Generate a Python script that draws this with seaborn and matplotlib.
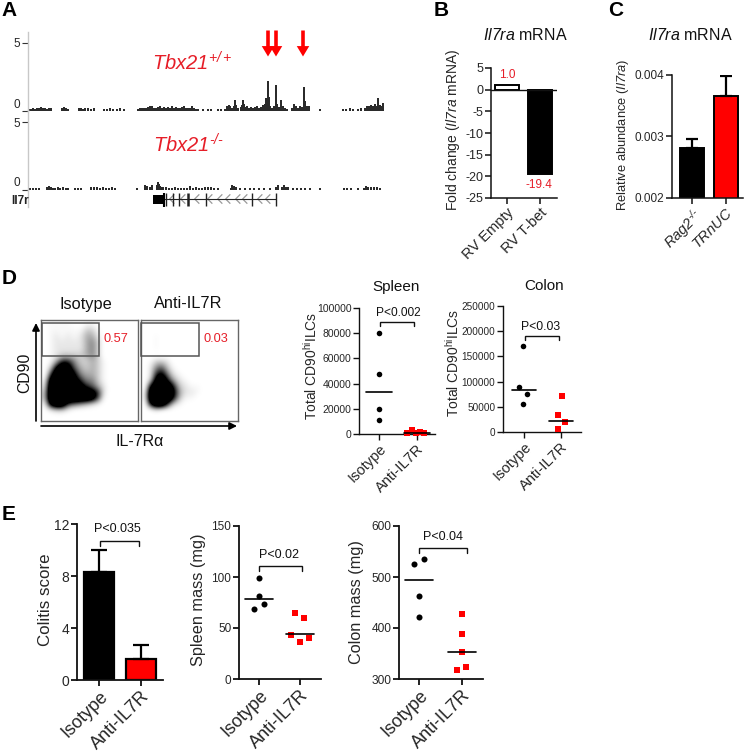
import numpy as np
import pandas as pd
import matplotlib
matplotlib.use('Agg')
import matplotlib.pyplot as plt
from matplotlib.colors import PowerNorm
from matplotlib.path import Path
from matplotlib.patches import Rectangle
import seaborn as sns

# Panel A tracks, position along the locus and signal height
wt_pos = [29, 31, 33, 35, 37, 39, 41, 43, 45, 47, 49, 51, 62, 64, 66, 68, 79, 81, 83, 85, 88, 91, 94,
          104, 107, 110, 113, 117, 120, 124, 138, 140, 142, 144, 146, 148, 150, 152, 154, 156, 158, 160,
          162, 164, 166, 168, 170, 172, 174, 176, 178, 180, 182, 184, 186, 188, 190, 192, 194, 196, 198,
          203, 208, 211, 218, 221, 225, 227, 228, 229, 230, 232, 234, 235, 236, 238, 241, 242, 243, 244,
          245, 247, 249, 251, 253, 255, 257, 259, 261, 263, 265, 266, 267, 268, 269, 270, 272, 274, 276,
          277, 279, 281, 283, 285, 287, 292, 294, 296, 298, 300, 302, 304, 305, 307, 309, 320, 343, 346,
          350, 353, 358, 361, 365, 367, 369, 371, 373, 375, 377, 378, 380, 382, 383]
wt_sig = [.12, .1, .2, .12, .2, .15, .25, .15, .2, .12, .2, .2, .2, .25, .2, .1, .15, .22, .12, .15, .2, .12, .2,
          .12, .12, .2, .1, .12, .22, .1, .12, .15, .15, .2, .15, .25, .3, .35, .2, .2, .25, .3,
          .2, .25, .2, .25, .2, .3, .2, .25, .2, .15, .25, .3, .2, .15, .2, .3, .2, .1, .1,
          .08, .08, .1, .1, .08, .1, .3, .25, .4, .35, .2, .3, .8, .4, .2, .25, .4, .75, .5,
          .25, .3, .2, .25, .2, .25, .3, .2, .25, .4, .45, .9, .6, 2.15, 1.0, .3, .15, .3, 1.9,
          .5, .25, .8, .3, .15, .1, .15, .45, .35, .2, .3, .25, 1.7, .7, .3, .3, .1, .08, .1,
          .2, .1, .12, .2, .15, .3, .3, .4, .35, .45, .35, .95, .4, .3, .55]
ko_pos = [27, 30, 33, 36, 39, 47, 49, 51, 53, 55, 58, 60, 63, 66, 68, 75, 78, 81, 91, 94, 97, 100, 103, 106, 109, 112, 115,
          137, 145, 147, 150, 152, 157, 158, 159, 160, 161, 163, 166, 169, 172, 175, 178, 181, 184, 187, 190, 193, 196, 199, 202,
          205, 208, 211, 214, 218, 231, 232, 234, 236, 240, 245, 250, 254, 259, 264, 270, 276, 278, 282, 284, 286, 288,
          293, 297, 301, 305, 310, 320, 344, 347, 351, 358, 364, 366, 368, 371, 374, 377, 380]
ko_sig = [.08, .08, .1, .1, .08, .15, .25, .2, .12, .12, .15, .1, .2, .12, .1, .08, .1, .08, .2, .15, .15, .1, .15, .1, .12, .15, .08,
          .08, .35, .25, .15, .3, .35, .55, .4, .25, .15, .2, .15, .1, .12, .15, .1, .12, .12, .1, .25, .12, .15, .1, .12,
          .2, .15, .2, .1, .12, .1, .35, .25, .2, .1, .1, .08, .1, .12, .1, .1, .2, .3, .15, .35, .15, .2,
          .08, .08, .08, .08, .1, .1, .1, .1, .12, .12, .1, .25, .15, .2, .15, .2, .1]
exon_pos = [166, 173, 179, 188, 206, 252, 276]
chevron_pos = [172, 183, 197, 210, 220, 228, 238, 245, 260, 268]

# Panel B and C
b_groups = ['RV Empty', 'RV T-bet']
b_values = [1.0, -19.4]
c_groups = ['$\\mathsf{Rag2}^{\\mathsf{\u2010/\u2010}}$', '$\\mathsf{TRnUC}$']
c_values = [0.00281, 0.00365]
c_upper = [0.00296, 0.00397]

# Panel D flow plots, how dark each region is (0 to 10), top row first
iso_density = [
    [0, 1, 1, 1, 1, 0, 0, 1, 1, 0, 0, 0, 0, 0, 0, 0],
    [0, 1, 1, 1, 1, 1, 1, 3, 3, 1, 0, 0, 0, 0, 0, 0],
    [0, 1, 2, 1, 2, 1, 2, 4, 4, 2, 0, 0, 0, 0, 0, 0],
    [0, 1, 2, 2, 2, 2, 2, 4, 5, 3, 0, 0, 0, 0, 0, 0],
    [0, 1, 2, 2, 2, 2, 2, 4, 5, 3, 0, 0, 0, 0, 0, 0],
    [0, 1, 2, 3, 3, 3, 3, 4, 5, 3, 0, 0, 0, 0, 0, 0],
    [0, 1, 4, 7, 7, 5, 3, 3, 4, 3, 1, 0, 0, 0, 0, 0],
    [0, 3, 8, 10, 9, 6, 4, 3, 4, 3, 1, 0, 0, 0, 0, 0],
    [0, 6, 10, 10, 10, 8, 5, 4, 4, 3, 1, 0, 0, 0, 0, 0],
    [1, 9, 10, 10, 10, 9, 7, 5, 5, 3, 1, 0, 0, 0, 0, 0],
    [2, 10, 10, 10, 10, 10, 9, 7, 6, 4, 2, 0, 0, 0, 0, 0],
    [3, 10, 10, 10, 10, 10, 10, 10, 9, 7, 2, 0, 0, 0, 0, 0],
    [3, 10, 10, 10, 10, 10, 10, 10, 9, 6, 1, 0, 0, 0, 0, 0],
    [1, 8, 10, 10, 6, 5, 4, 3, 2, 1, 0, 0, 0, 0, 0, 0],
    [0, 1, 2, 2, 1, 0, 0, 0, 0, 0, 0, 0, 0, 0, 0, 0],
    [0, 0, 0, 0, 0, 0, 0, 0, 0, 0, 0, 0, 0, 0, 0, 0],
]
anti_density = [
    [0, 0, 0, 0, 0, 0, 0, 0, 0, 0, 0, 0, 0, 0, 0, 0],
    [0, 0, 0, 0, 0, 0, 0, 0, 0, 0, 0, 0, 0, 0, 0, 0],
    [0, 0, 1, 0, 0, 0, 0, 0, 0, 0, 0, 0, 0, 0, 0, 0],
    [0, 0, 1, 0, 0, 0, 0, 0, 0, 0, 0, 0, 0, 0, 0, 0],
    [0, 0, 1, 0, 0, 0, 0, 0, 0, 0, 0, 0, 0, 0, 0, 0],
    [0, 0, 0, 0, 0, 0, 0, 0, 0, 0, 0, 0, 0, 0, 0, 0],
    [0, 1, 3, 3, 2, 0, 0, 0, 0, 0, 0, 0, 0, 0, 0, 0],
    [0, 2, 5, 6, 3, 1, 0, 0, 0, 0, 0, 0, 0, 0, 0, 0],
    [0, 2, 7, 8, 5, 2, 1, 0, 0, 0, 0, 0, 0, 0, 0, 0],
    [0, 3, 9, 10, 7, 4, 2, 1, 0, 0, 0, 0, 0, 0, 0, 0],
    [0, 8, 10, 10, 10, 7, 3, 2, 1, 1, 0, 0, 0, 0, 0, 0],
    [1, 10, 10, 10, 10, 8, 4, 2, 2, 1, 0, 0, 0, 0, 0, 0],
    [1, 10, 10, 10, 10, 7, 3, 1, 1, 0, 0, 0, 0, 0, 0, 0],
    [0, 7, 10, 10, 6, 2, 1, 0, 0, 0, 0, 0, 0, 0, 0, 0],
    [0, 0, 1, 0, 0, 0, 0, 0, 0, 0, 0, 0, 0, 0, 0, 0],
    [0, 0, 0, 0, 0, 0, 0, 0, 0, 0, 0, 0, 0, 0, 0, 0],
]

groups = ['Isotype', 'Anti-IL7R']

# Panel D dots: values and horizontal spread within each group
spleen_iso = [80500, 48000, 19500, 11000]
spleen_iso_dx = [0, 0, 0, 0]
spleen_anti = [800, 3000, 1000, 1200, 800]
spleen_anti_dx = [-.27, -.14, -.03, .09, .19]
spleen_means = [33500, 1000]
colon_iso = [170000, 89000, 76000, 55000]
colon_iso_dx = [-.02, -.13, .08, -.02]
colon_anti = [71000, 34000, 20000, 5000]
colon_anti_dx = [.02, -.08, .12, -.08]
colon_means = [83000, 21000]

# Panel E
colitis_values = [8.3, 1.6]
colitis_upper = [10.0, 2.7]
spmass_iso = [99, 81, 74, 69]
spmass_iso_dx = [0, 0, .12, -.11]
spmass_anti = [64.5, 60, 43, 36, 40]
spmass_anti_dx = [-.12, .1, -.22, 0, .22]
spmass_means = [78, 44]
comass_iso = [535, 526, 462, 421]
comass_iso_dx = [.11, -.11, 0, 0]
comass_anti = [428, 388, 352, 323, 317]
comass_anti_dx = [0, 0, 0, .1, -.11]
comass_means = [494, 353]

W, H = 745, 752
RED = '#ff0000'
TXT_RED = '#e61e28'

sns.set_theme(style='ticks')
plt.rcParams['font.family'] = ['Liberation Sans', 'DejaVu Sans']
plt.rcParams['mathtext.fontset'] = 'custom'
plt.rcParams['mathtext.rm'] = 'Liberation Sans'
plt.rcParams['mathtext.it'] = 'Liberation Sans:italic'
plt.rcParams['mathtext.bf'] = 'Liberation Sans:bold'
# sf is used for gene names, so digits stay italic too
plt.rcParams['mathtext.sf'] = 'Liberation Sans:italic'
plt.rcParams['mathtext.default'] = 'regular'
plt.rcParams['text.color'] = '#111111'

fig = plt.figure(figsize=(W / 100, H / 100), dpi=100)


def px_axes(left, top, right, bottom):
    return fig.add_axes([left / W, 1 - bottom / H, (right - left) / W, (bottom - top) / H])


# overlay in pixel coordinates for letters, titles and brackets
ov = fig.add_axes([0, 0, 1, 1], zorder=10)
ov.set_xlim(0, W)
ov.set_ylim(H, 0)
ov.axis('off')
ov.patch.set_alpha(0)


def label(x, y, s, size=10, **kw):
    kw.setdefault('ha', 'center')
    kw.setdefault('va', 'center')
    return ov.text(x, y, s, fontsize=size, **kw)


def bracket(x0, x1, y, drop=5):
    ov.plot([x0, x0, x1, x1], [y + drop, y, y, y + drop], color='#111111', lw=1.0, solid_joinstyle='miter')


def style_axes(ax, t0, t1, tick_size, cat_size, ylabel, ylabel_x, ylabel_y, ylabel_size, lw=1.1):
    # t0, t1: pixel position of the two category ticks
    box = ax.get_position()
    left, right = box.x0 * W, box.x1 * W
    ax.set_xlim((left - t0) / (t1 - t0), (right - t0) / (t1 - t0))
    ax.set_facecolor('none')
    sns.despine(ax=ax)
    for s in ['left', 'bottom']:
        ax.spines[s].set_linewidth(lw)
        ax.spines[s].set_color('#111111')
    ax.tick_params(axis='both', length=4, width=lw, color='#111111', pad=1.5)
    ax.tick_params(axis='y', labelsize=tick_size)
    ax.tick_params(axis='x', labelsize=cat_size)
    for t in ax.get_xticklabels():
        t.set_rotation(45)
        t.set_ha('right')
        t.set_rotation_mode('anchor')
    ax.set_xlabel('')
    ax.set_ylabel(ylabel, fontsize=ylabel_size, va='center')
    ax.yaxis.set_label_coords(ylabel_x / W, 1 - ylabel_y / H, transform=fig.transFigure)


def dot_panel(ax, iso, iso_dx, anti, anti_dx, means, half=.33, size=16, lw=1.2):
    ax.set_xticks([0, 1])
    ax.set_xticklabels(groups)
    sns.scatterplot(x=[0 + d for d in iso_dx], y=iso, color='black', marker='o', s=size, linewidth=0, ax=ax, zorder=3)
    sns.scatterplot(x=[1 + d for d in anti_dx], y=anti, color=RED, marker='s', s=size, linewidth=0, ax=ax, zorder=3,
                    clip_on=False)
    for i, m in enumerate(means):
        ax.plot([i - half, i + half], [m, m], color='black', lw=lw, zorder=4)


def bar_panel(ax, names, values, colors, width, lw=1.6):
    df = pd.DataFrame({'group': names, 'value': values})
    sns.barplot(data=df, x='group', y='value', hue='group', palette=colors, width=width, errorbar=None,
                edgecolor='black', linewidth=lw, saturation=1, legend=False, ax=ax)


def upper_error(ax, values, upper, cap=4, lw=1.6):
    for i, (v, u) in enumerate(zip(values, upper)):
        ax.errorbar(i, v, yerr=[[0], [u - v]], color='black', capsize=cap, elinewidth=lw, capthick=lw, zorder=1)


# ---- Panel A ----
label(9, 10, 'A', 15, fontweight='bold', color='black')
track_color = '#2b2b2b'
guide = '#c8c8c8'


def track(ax, pos, sig, top):
    ax.bar(pos, sig, width=1.6, color=track_color, linewidth=0)
    ax.set_xlim(28, 385)
    ax.set_ylim(0, top)
    ax.set_xticks([])
    ax.set_yticks([0, 5])
    ax.set_yticklabels(['0', '5'], fontsize=8.5)
    ax.set_facecolor('none')
    ax.tick_params(axis='y', length=4, width=0.8, color='#333333', pad=2)
    for s in ['top', 'right', 'bottom']:
        ax.spines[s].set_visible(False)
    ax.spines['left'].set_color(guide)
    ax.spines['left'].set_linewidth(1.0)
    ax.get_yticklabels()[0].set_va('bottom')


track(px_axes(28, 32, 385, 110.5), wt_pos, wt_sig, 78.5 / 13.6)
track(px_axes(28, 110.5, 385, 189.5), ko_pos, ko_sig, 79 / 13.4)

gene = px_axes(28, 189.5, 385, 207)
gene.set_xlim(28, 385)
gene.set_ylim(207, 189.5)
gene.set_xticks([])
gene.set_yticks([])
gene.set_facecolor('none')
for s in ['top', 'right', 'bottom']:
    gene.spines[s].set_visible(False)
gene.spines['left'].set_color(guide)
gene.spines['left'].set_linewidth(1.0)
gene.plot([163, 276], [199, 199], color='#222222', lw=0.8)
chevron = Path([(0.5, 1), (-0.5, 0), (0.5, -1)], [Path.MOVETO, Path.LINETO, Path.LINETO])
gene.scatter(chevron_pos, [199] * len(chevron_pos), marker=chevron, s=45, facecolors='none',
             edgecolors='#9a9a9a', linewidths=0.9)
gene.vlines(exon_pos, 193, 206, color='#222222', lw=[1, 1, 1, 1.8, 1, 1, 1])
gene.add_patch(Rectangle((153, 195), 10, 9, color='black', linewidth=0))
gene.vlines([163.5], 192.5, 207, color='black', lw=1.5)
label(20, 200.5, 'Il7r', 8.5, fontweight='bold', color='#222222')

label(152, 63, '$\\mathsf{Tbx21}^{\\mathsf{+/+}}$', 14.5, color=TXT_RED, ha='left')
label(153, 145, '$\\mathsf{Tbx21}^{\\mathsf{\u2010/\u2010}}$', 14.5, color=TXT_RED, ha='left')
for x in [268, 276, 303]:
    ov.annotate('', xy=(x, 56.5), xytext=(x, 30.5),
                arrowprops=dict(facecolor=RED, edgecolor='none', width=2.6, headwidth=9, headlength=7.5, shrink=0))

# ---- Panel B ----
label(441, 10, 'B', 15, fontweight='bold', color='black')
label(525, 35, r'$\mathsf{Il7ra}$ mRNA', 11.5)
ax_b = px_axes(491, 68, 557, 198)
bar_panel(ax_b, b_groups, b_values, ['white', 'black'], 0.72, lw=1.4)
ax_b.set_ylim(-25, 5)
ax_b.set_yticks([5, 0, -5, -10, -15, -20, -25])
ax_b.set_yticklabels(['5', '0', '-5', '-10', '-15', '-20', '-25'])
ax_b.axhline(0, color='#111111', lw=1.0, zorder=5)
style_axes(ax_b, 507, 540, 9, 10.5, r'Fold change ($\mathsf{Il7ra}$ mRNA)', 453, 130, 10)
label(507, 75, '1.0', 8.5, color=TXT_RED)
label(539, 185, '-19.4', 8.5, color=TXT_RED)

# ---- Panel C ----
label(616, 10, 'C', 15, fontweight='bold', color='black')
label(690, 35, r'$\mathsf{Il7ra}$ mRNA', 11.5)
ax_c = px_axes(672, 74.5, 743, 198)
bar_panel(ax_c, c_groups, c_values, ['black', RED], 0.7, lw=1.4)
upper_error(ax_c, c_values, c_upper, cap=4.5)
ax_c.set_ylim(0.002, 0.004)
ax_c.set_yticks([0.002, 0.003, 0.004])
ax_c.set_yticklabels(['0.002', '0.003', '0.004'])
style_axes(ax_c, 692, 726, 8.5, 10.5, r'Relative abundance ($\mathsf{Il7ra}$)', 623, 135, 9.3)

# ---- Panel D ----
label(9, 278, 'D', 15, fontweight='bold', color='black')
label(86, 304, 'Isotype', 11.8)
label(188, 304, 'Anti-IL7R', 11.8)
for box, dens, gate_x, value, vx in [((41, 320, 137.5, 421), iso_density, 41.7, '0.57', 116),
                                     ((140.5, 320, 237.5, 421), anti_density, 141.3, '0.03', 216)]:
    ax = px_axes(*box)
    ax.imshow(np.array(dens), cmap='gray_r', norm=PowerNorm(gamma=1.8, vmin=0, vmax=7.5), aspect='auto',
              extent=(0, 1, 0, 1), interpolation='bicubic')
    ax.set_xticks([])
    ax.set_yticks([])
    ax.grid(False)
    for s in ax.spines.values():
        s.set_visible(True)
        s.set_color('#666666')
        s.set_linewidth(1.0)
    ov.add_patch(Rectangle((gate_x, 323), 57.5, 33, fill=False, edgecolor='#555555', linewidth=1.1))
    label(vx, 339.5, value, 9.2, color=TXT_RED)
ov.annotate('', xy=(36, 323), xytext=(36, 421),
            arrowprops=dict(arrowstyle='-|>', color='black', lw=1.2, shrinkA=0, shrinkB=0, mutation_scale=11))
ov.annotate('', xy=(237, 426), xytext=(41, 426),
            arrowprops=dict(arrowstyle='-|>', color='black', lw=1.2, shrinkA=0, shrinkB=0, mutation_scale=11))
label(25, 373, 'CD90', 11.3, rotation=90)
label(140, 442, 'IL-7R\u03b1', 11.5)

ylab_cd90 = r'Total CD90$^{hi}$ILCs'
label(396, 287, 'Spleen', 11)
ax_sp = px_axes(359, 308, 435, 434)
dot_panel(ax_sp, spleen_iso, spleen_iso_dx, spleen_anti, spleen_anti_dx, spleen_means)
ax_sp.set_ylim(0, 100000)
ax_sp.set_yticks([0, 20000, 40000, 60000, 80000, 100000])
ax_sp.set_yticklabels(['0', '20000', '40000', '60000', '80000', '100000'])
style_axes(ax_sp, 379, 417, 7.5, 10.5, ylab_cd90, 311, 366, 10, lw=1.0)
bracket(380, 414, 322, 4)
label(398, 313, 'P<0.002', 8.6)

label(544, 286, 'Colon', 11)
ax_co = px_axes(503, 306, 581, 432)
dot_panel(ax_co, colon_iso, colon_iso_dx, colon_anti, colon_anti_dx, colon_means)
ax_co.set_ylim(0, 250000)
ax_co.set_yticks([0, 50000, 100000, 150000, 200000, 250000])
ax_co.set_yticklabels(['0', '50000', '100000', '150000', '200000', '250000'])
style_axes(ax_co, 524, 561, 7.2, 10.5, ylab_cd90, 453, 363, 10, lw=1.0)
bracket(525, 559, 336, 4)
label(541, 327, 'P<0.03', 8.8)

# ---- Panel E ----
label(9, 515, 'E', 15, fontweight='bold', color='black')
ax_col = px_axes(77, 524, 163, 680)
bar_panel(ax_col, groups, colitis_values, ['black', RED], 0.72, lw=1.6)
upper_error(ax_col, colitis_values, colitis_upper, cap=5.5)
ax_col.set_ylim(0, 12)
ax_col.set_yticks([0, 4, 8, 12])
style_axes(ax_col, 99, 141, 10, 13, 'Colitis score', 45, 600, 12.2, lw=1.3)
bracket(100, 139, 541, 5)
label(117, 529, 'P<0.035', 9)

ax_spm = px_axes(239, 526, 321, 679)
dot_panel(ax_spm, spmass_iso, spmass_iso_dx, spmass_anti, spmass_anti_dx, spmass_means, half=.34, size=19)
ax_spm.set_ylim(0, 150)
ax_spm.set_yticks([0, 50, 100, 150])
style_axes(ax_spm, 259, 300, 8.5, 13, 'Spleen mass (mg)', 198, 600, 11.7, lw=1.3)
bracket(259, 302, 566, 5)
label(279, 555, 'P<0.02', 9)

ax_com = px_axes(399, 526, 483, 679)
dot_panel(ax_com, comass_iso, comass_iso_dx, comass_anti, comass_anti_dx, comass_means, size=19)
ax_com.set_ylim(300, 600)
ax_com.set_yticks([300, 400, 500, 600])
style_axes(ax_com, 419, 462, 8.6, 13, 'Colon mass (mg)', 357, 602, 11.7, lw=1.3)
bracket(419, 467, 548, 5)
label(443, 537, 'P<0.04', 9)

fig.savefig('out.png', dpi=100)
